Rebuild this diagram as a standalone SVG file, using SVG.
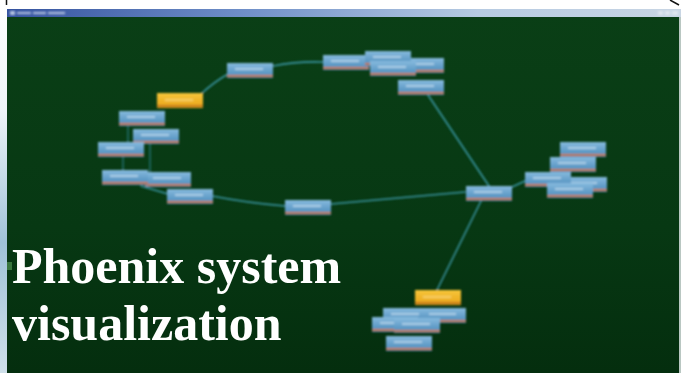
<svg xmlns="http://www.w3.org/2000/svg" xmlns:xlink="http://www.w3.org/1999/xlink" width="681" height="373" viewBox="0 0 681 373">
  <style>
    .edge { fill: none; stroke: #3a95a3; stroke-width: 1.6; stroke-linecap: round; }
    .edge.faint { stroke: #2f7f86; stroke-width: 1.2; }
  </style>
  <defs>
    <linearGradient id="bg" x1="0" y1="0" x2="0" y2="1">
      <stop offset="0" stop-color="#0a3f16"/>
      <stop offset="0.6" stop-color="#073813"/>
      <stop offset="1" stop-color="#042e0e"/>
    </linearGradient>
    <linearGradient id="titlebar" x1="0" y1="0" x2="1" y2="0">
      <stop offset="0" stop-color="#35539f"/>
      <stop offset="0.35" stop-color="#6f8fc8"/>
      <stop offset="0.7" stop-color="#b7cbe2"/>
      <stop offset="1" stop-color="#c9d6e4"/>
    </linearGradient>
    <linearGradient id="sideStrip" x1="0" y1="0" x2="0" y2="1">
      <stop offset="0" stop-color="#ffffff"/>
      <stop offset="0.3" stop-color="#eef4f8"/>
      <stop offset="0.65" stop-color="#9fc2d8"/>
      <stop offset="1" stop-color="#cfe0ea"/>
    </linearGradient>
    <linearGradient id="nodeBlue" x1="0" y1="0" x2="0" y2="1">
      <stop offset="0" stop-color="#86bade"/>
      <stop offset="0.7" stop-color="#5c98c4"/>
      <stop offset="1" stop-color="#4a86b4"/>
    </linearGradient>
    <linearGradient id="nodeGold" x1="0" y1="0" x2="0" y2="1">
      <stop offset="0" stop-color="#f7c63a"/>
      <stop offset="1" stop-color="#e9a419"/>
    </linearGradient>
    <filter id="soft" x="-10%" y="-10%" width="120%" height="120%">
      <feGaussianBlur stdDeviation="1"/>
    </filter>
    <!-- standard service box: blue body, label line, orange status strip -->
    <symbol id="box" overflow="visible">
      <rect x="0" y="0" width="46" height="15" fill="url(#nodeBlue)"/>
      <rect x="8" y="5" width="28" height="2" fill="#d2e8f6" opacity="0.6"/>
      <rect x="0" y="12" width="46" height="2" fill="#c27636"/>
    </symbol>
    <!-- highlighted box -->
    <symbol id="boxGold" overflow="visible">
      <rect x="0" y="0" width="46" height="15" fill="url(#nodeGold)"/>
      <rect x="8" y="6" width="28" height="2" fill="#fbe08a" opacity="0.6"/>
      <rect x="0" y="12" width="46" height="2" fill="#c2761c"/>
    </symbol>
  </defs>

  <!-- page margin -->
  <rect x="0" y="0" width="681" height="373" fill="#ffffff"/>
  <rect x="0" y="0" width="7" height="373" fill="url(#sideStrip)"/>
  <path d="M6.5,0 V5" stroke="#111" stroke-width="1.5"/>
  <path d="M670,0 L679,5" stroke="#111" stroke-width="1.5"/>

  <!-- window -->
  <rect x="7" y="9" width="674" height="364" fill="url(#bg)"/>
  <rect x="7" y="9" width="674" height="8" fill="url(#titlebar)"/>
  <g fill="#dfe8f6" opacity="0.75" filter="url(#soft)">
    <rect x="10" y="11" width="5" height="4"/>
    <rect x="17" y="12" width="14" height="2"/>
    <rect x="33" y="12" width="13" height="2"/>
    <rect x="48" y="12" width="17" height="2"/>
  </g>
  <g fill="#e9eef4" opacity="0.7" filter="url(#soft)">
    <rect x="658" y="11" width="5" height="4"/>
    <rect x="665" y="11" width="5" height="4"/>
    <rect x="672" y="11" width="6" height="4"/>
  </g>
  <rect x="679" y="17" width="2" height="356" fill="#b9c7c2"/>

  <g filter="url(#soft)">
    <!-- connectors -->
    <g id="connectors">
      <path class="edge" d="M201,94 Q214,82 228,74"/>
      <path class="edge" d="M273,66 Q298,61 323,62"/>
      <path class="edge" d="M428,95 L489,186"/>
      <path class="edge" d="M512,187 L525,181"/>
      <path class="edge" d="M481,201 L437,290"/>
      <path class="edge" d="M465,192 Q400,198 331,204"/>
      <path class="edge" d="M285,206 Q248,203 212,196"/>
      <path class="edge" d="M141,186 L168,194"/>
      <path class="edge faint" d="M123,157 V171"/>
      <path class="edge faint" d="M150,144 V172"/>
      <path class="edge faint" d="M128,126 V142"/>
    </g>

    <!-- upper arc -->
    <g id="n-arc-1"><use href="#box" x="227" y="63"/></g>
    <g id="n-hot-1"><use href="#boxGold" x="157" y="93"/></g>

    <!-- left stack -->
    <g id="n-left-1"><use href="#box" x="119" y="111"/></g>
    <g id="n-left-2"><use href="#box" x="133" y="129"/></g>
    <g id="n-left-3"><use href="#box" x="98" y="142"/></g>
    <g id="n-left-5"><use href="#box" x="145" y="172"/></g>
    <g id="n-left-4"><use href="#box" x="102" y="170"/></g>
    <g id="n-left-6"><use href="#box" x="167" y="189"/></g>

    <!-- lower arc -->
    <g id="n-mid"><use href="#box" x="285" y="200"/></g>

    <!-- top cluster -->
    <g id="n-top-1"><use href="#box" x="323" y="55"/></g>
    <g id="n-top-4"><use href="#box" x="398" y="58"/></g>
    <g id="n-top-2"><use href="#box" x="365" y="51"/></g>
    <g id="n-top-3"><use href="#box" x="370" y="61"/></g>
    <g id="n-top-5"><use href="#box" x="398" y="80"/></g>

    <!-- hub -->
    <g id="n-hub"><use href="#box" x="466" y="186"/></g>

    <!-- right cluster -->
    <g id="n-right-1"><use href="#box" x="560" y="142"/></g>
    <g id="n-right-2"><use href="#box" x="550" y="157"/></g>
    <g id="n-right-4"><use href="#box" x="561" y="177"/></g>
    <g id="n-right-3"><use href="#box" x="525" y="172"/></g>
    <g id="n-right-5"><use href="#box" x="547" y="183"/></g>

    <!-- bottom cluster -->
    <g id="n-hot-2"><use href="#boxGold" x="415" y="290"/></g>
    <g id="n-bot-2"><use href="#box" x="420" y="308"/></g>
    <g id="n-bot-1"><use href="#box" x="383" y="308"/></g>
    <g id="n-bot-3"><use href="#box" x="372" y="317"/></g>
    <g id="n-bot-4"><use href="#box" x="394" y="318"/></g>
    <g id="n-bot-5"><use href="#box" x="386" y="336"/></g>
  </g>

  <!-- caption -->
  <rect x="7" y="262" width="5" height="8" fill="#5aa05a" opacity="0.6"/>
  <g font-family="'Liberation Serif', 'Times New Roman', serif" font-weight="700" font-size="50" fill="#ffffff">
    <text x="12" y="283">Phoenix system</text>
    <text x="12" y="340">visualization</text>
  </g>
</svg>
